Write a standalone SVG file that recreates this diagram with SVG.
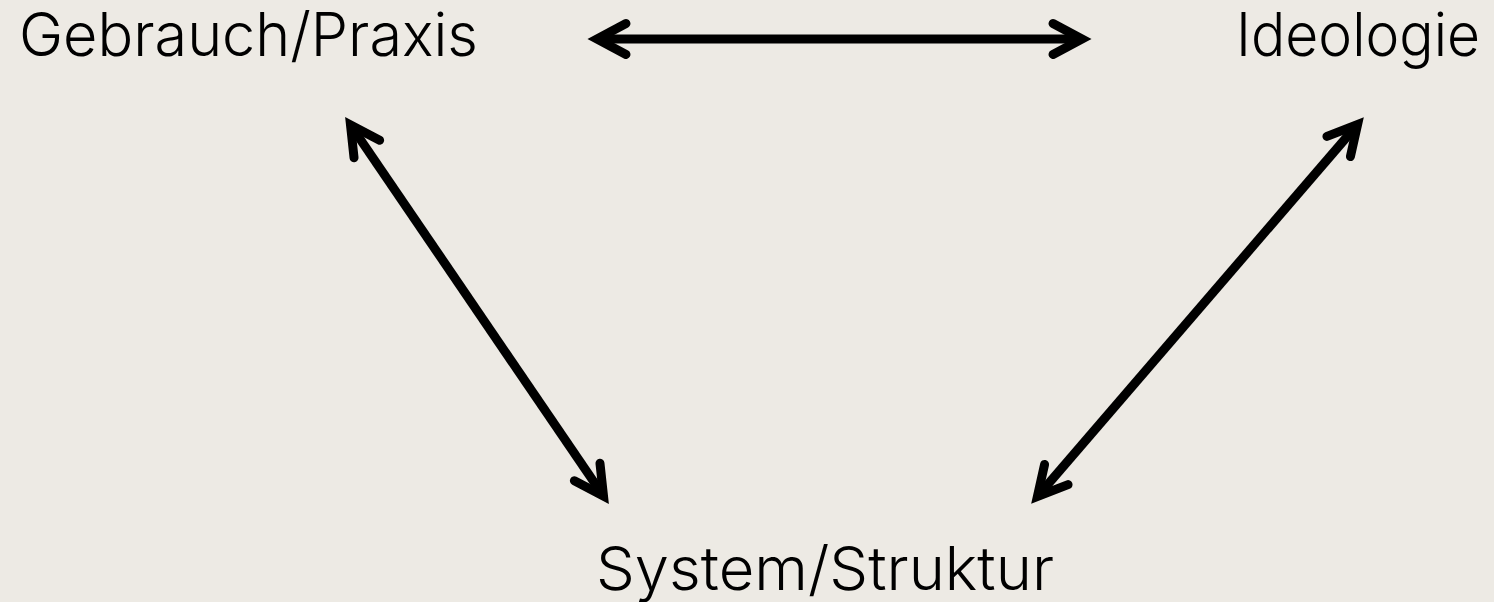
<svg xmlns="http://www.w3.org/2000/svg" width="1494" height="602" viewBox="0 0 1494 602">
<style>
.lbl{font-family:Inter,"Liberation Sans",Arial,sans-serif;font-weight:300;font-size:60px;fill:#000}
.con{stroke:#000;stroke-width:9;fill:none;marker-start:url(#ah);marker-end:url(#ah)}
</style>
<defs>
<marker id="ah" markerUnits="userSpaceOnUse" orient="auto-start-reverse" markerWidth="60" markerHeight="60" refX="0" refY="0" overflow="visible">
<path d="M -29 -15.5 L 0 0 L -29 15.5" fill="none" stroke="#000" stroke-width="9" stroke-linejoin="miter" stroke-linecap="round"/>
</marker>
</defs>
<rect width="1494" height="602" fill="#EDEAE4"/>
<g id="connectors">
<line class="con" x1="597" y1="39" x2="1082" y2="39"/>
<line class="con" x1="350.5" y1="125" x2="603.5" y2="496"/>
<line class="con" x1="1357.6" y1="124.5" x2="1037.4" y2="496.5"/>
</g>
<g id="gebrauch"><text class="lbl" x="19" y="56" textLength="459" lengthAdjust="spacingAndGlyphs">Gebrauch/Praxis</text></g>
<g id="ideologie"><text class="lbl" x="1236" y="56" textLength="244" lengthAdjust="spacingAndGlyphs">Ideologie</text></g>
<g id="system"><text class="lbl" x="596" y="590" textLength="458" lengthAdjust="spacingAndGlyphs">System/Struktur</text></g>
</svg>
